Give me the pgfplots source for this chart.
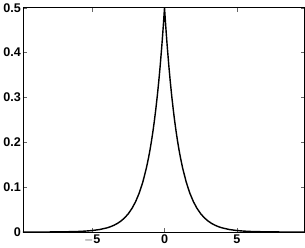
\documentclass[border=0pt]{standalone}
\usepackage{pgfplots}
\pgfplotsset{compat=1.18}
\usepackage{fontspec}
\setmainfont{Liberation Sans}
\begin{document}
\begin{tikzpicture}
\begin{axis}[
  scale only axis,
  width=279bp, height=222bp,
  xmin=-9.8, xmax=9.7, ymin=0, ymax=0.5,
  xtick={-5,0,5}, ytick={0,0.1,0.2,0.3,0.4,0.5},
  xticklabels={$-$5,0,5},
  yticklabels={0,0.1,0.2,0.3,0.4,0.5},
  tick align=inside, tick pos=both,
  major tick length=4bp,
  tick style={black!60, line width=0.5pt},
  axis line style={black, line width=0.6pt},
  ticklabel style={font=\fontsize{12.5}{14}\selectfont\bfseries},
  xticklabel style={yshift=1bp},
  yticklabel style={xshift=1.5bp},
]
\addplot[black, line width=1.4pt, line join=round] coordinates {
(-9.8,0.0000277) (-9,0.0000617) (-8,0.000168) (-7,0.000456) (-6,0.001239)
(-5.5,0.002043) (-5,0.003369) (-4.5,0.005554) (-4,0.009158) (-3.75,0.011759) (-3.5,0.015099) (-3.25,0.019387) (-3,0.024894)
(-2.75,0.031963) (-2.5,0.041042) (-2.25,0.052700) (-2,0.067668) (-1.75,0.086887) (-1.5,0.111565) (-1.25,0.143252)
(-1.1,0.166436) (-1,0.183940) (-0.9,0.203285) (-0.8,0.224664) (-0.7,0.248293) (-0.6,0.274406) (-0.5,0.303265) (-0.4,0.335160)
(-0.3,0.370409) (-0.2,0.409365) (-0.15,0.430354) (-0.1,0.452419) (-0.05,0.475615)
(0,0.5)
(0.05,0.475615) (0.1,0.452419) (0.15,0.430354) (0.2,0.409365) (0.3,0.370409)
(0.4,0.335160) (0.5,0.303265) (0.6,0.274406) (0.7,0.248293) (0.8,0.224664) (0.9,0.203285) (1,0.183940) (1.1,0.166436)
(1.25,0.143252) (1.5,0.111565) (1.75,0.086887) (2,0.067668) (2.25,0.052700) (2.5,0.041042) (2.75,0.031963)
(3,0.024894) (3.25,0.019387) (3.5,0.015099) (3.75,0.011759) (4,0.009158) (4.5,0.005554) (5,0.003369) (5.5,0.002043)
(6,0.001239) (7,0.000456) (8,0.000168) (9,0.0000617) (9.7,0.0000306)
};
\end{axis}
\end{tikzpicture}
\end{document}
